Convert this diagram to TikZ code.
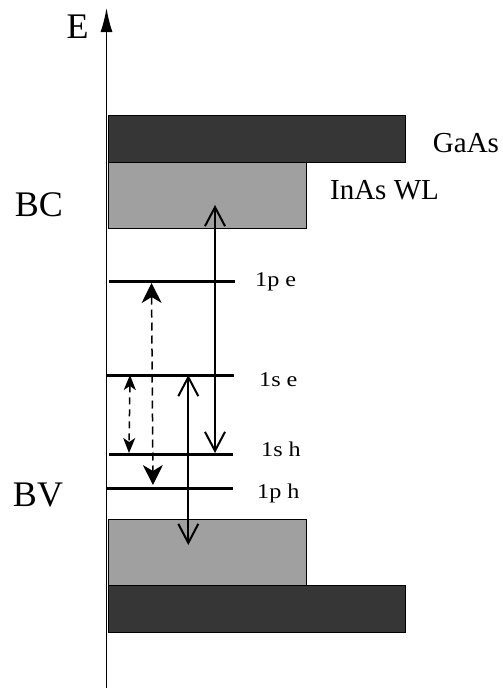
\documentclass[tikz,border=0pt]{standalone}
\usepackage{fontspec}
\setmainfont{Liberation Serif}
\usetikzlibrary{arrows.meta}

\begin{document}
\begin{tikzpicture}[x=1pt,y=-1pt, % 1 unit = 1 px, y downwards
  lvl/.style={line width=3pt},
  band/.style={draw=black,line width=1pt},
  solidarr/.style={line width=2pt,{Straight Barb[length=19pt,width=20pt,line width=2pt]}-{Straight Barb[length=19pt,width=20pt,line width=2pt]}},
  dasharr/.style={line width=1.5pt,dash pattern=on 8pt off 5pt,{Stealth[length=20pt,width=20pt,inset=6pt]}-{Stealth[length=20pt,width=20pt,inset=6pt]}},
  dasharrs/.style={line width=1.5pt,dash pattern=on 7pt off 5pt,{Stealth[length=15pt,width=12pt,inset=4pt]}-{Stealth[length=15pt,width=12pt,inset=4pt]}},
  big/.style={font=\fontsize{36}{40}\selectfont},
  mid/.style={font=\fontsize{29}{32}\selectfont},
  lvllabel/.style={font=\fontsize{21}{23}\selectfont,anchor=base west,inner sep=0pt,xscale=1.15}]
\useasboundingbox (0,0) rectangle (503,688);

% --------- PARAMÈTRES ----------
\def\xaxis{106.5}   % axe vertical
\def\xl{108}        % bord gauche des bandes
\def\xwl{306.5}     % bord droit InAs WL
\def\xga{405.5}     % bord droit GaAs
\definecolor{gaas}{HTML}{363636}
\definecolor{wl}{HTML}{A0A0A0}
% --------------------------------

% Axe E
\coordinate (axbot) at (\xaxis,688);
\coordinate (axtop) at (\xaxis,8);
\draw[line width=1.5pt,-{Latex[length=24pt,width=12pt]}] (axbot) -- (axtop);
\node[big] (E) at (77.5,27) {E};

% Bandes (haut)
\draw[band,fill=gaas] (\xl,115) rectangle (\xga,162);
\draw[band,fill=wl] (\xl,162) rectangle (\xwl,228);
% Bandes (bas)
\draw[band,fill=wl] (\xl,519) rectangle (\xwl,585);
\draw[band,fill=gaas] (\xl,585) rectangle (\xga,632.5);

\node[big] (BC) at (39,204.5) {BC};
\node[big] (BV) at (38,494.5) {BV};
\node[mid] (GaAs) at (466,143) {GaAs};
\node[mid] (WL) at (384.5,190) {InAs WL};

% Niveaux
\draw[lvl] (109,281.7) coordinate (pe-l) -- (235,281.7) coordinate (pe-r);
\draw[lvl] (107,375) coordinate (se-l) -- (234,375) coordinate (se-r);
\draw[lvl] (109,454.3) coordinate (sh-l) -- (233,454.3) coordinate (sh-r);
\draw[lvl] (107,488) coordinate (ph-l) -- (233,488) coordinate (ph-r);

\node[lvllabel] (pe) at (255,286) {1p e};
\node[lvllabel] (se) at (259,386) {1s e};
\node[lvllabel] (sh) at (261,456) {1s h};
\node[lvllabel] (ph) at (257,498) {1p h};

% Transitions
\coordinate (a1) at (215,205);    \coordinate (b1) at (215,453);
\coordinate (a2) at (188.3,375);  \coordinate (b2) at (188.3,545);
\coordinate (a3) at (151.5,283);  \coordinate (b3) at (153,485);
\coordinate (a4) at (130,375);    \coordinate (b4) at (129,453);
\draw[solidarr] (a1) -- (b1);
\draw[solidarr] (a2) -- (b2);
\draw[dasharr] (a3) -- (b3);
\draw[dasharrs] (a4) -- (b4);

\end{tikzpicture}
\end{document}
